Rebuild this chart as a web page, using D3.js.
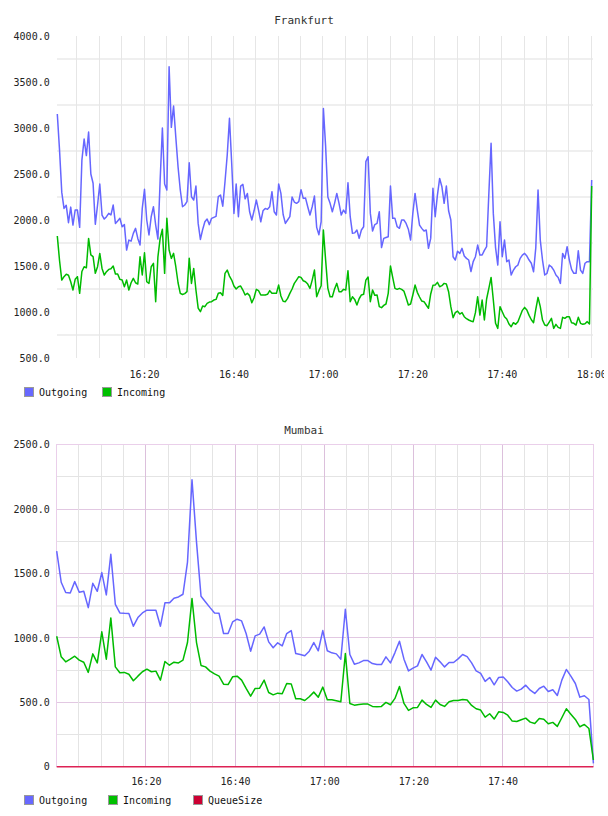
<!DOCTYPE html>
<html><head><meta charset="utf-8">
<script src="https://cdn.jsdelivr.net/npm/d3@7"></script>
<style>
body{margin:0;background:#fff}
svg{display:block}
text{font-family:"DejaVu Sans Mono",monospace;}
</style>
</head><body>
<svg id="c" width="608" height="816"></svg>
<script>
// ---------------- DATA ----------------
const frankTitle = "Frankfurt";
const frankStart = "16:00:36";
const frankStepSec = 30;
const frankOutgoing = [3152,2760,2300,2126,2160,1971,2140,1945,2110,2108,
1920,2650,2880,2700,2956,2500,2400,1953,2163,2391,
2054,2010,2036,2072,2055,2163,1963,1990,2018,1927,
1950,1673,1782,1770,1855,1909,1800,1728,2126,2333,
2000,1837,2036,2144,1945,1793,2434,3000,2391,2326,
3666,3007,3239,2900,2579,2326,2144,2163,2199,2623,
2253,2217,2369,1963,1789,1895,1981,2011,1950,2018,
2029,2040,2253,2271,2150,2416,2706,3105,2615,2072,
2391,2036,2369,2387,2230,2289,2090,2000,2100,2217,
2108,1981,2100,2126,2116,2144,2308,2090,2054,2391,
2289,2060,1963,2000,2036,2250,2195,2181,2199,2330,
2235,2240,2144,2054,2144,2260,1920,1840,1981,3213,
2800,2250,2181,2090,2181,2289,2181,2054,2108,2072,
2405,2036,1855,1860,1891,1800,1891,1927,2634,2688,
2072,1880,1950,1963,2090,1700,1800,1810,1818,2369,
2018,2018,1927,1910,2000,2000,1963,1900,1782,2072,
2289,2108,1945,1909,1880,1891,1692,1800,2344,2036,
2271,2452,2362,2181,2369,2100,2000,1601,1565,1660,
1637,1692,1608,1583,1565,1440,1547,1601,1728,1619,
1619,1670,1710,2289,2833,2072,1700,1510,1981,1601,
1782,1547,1565,1402,1456,1492,1510,1583,1619,1637,
1608,1565,1530,1438,1700,2326,1782,1565,1402,1420,
1510,1492,1456,1402,1375,1311,1637,1583,1710,1565,
1463,1420,1420,1666,1456,1420,1530,1547,1547,2434];
const frankIncoming = [1826,1560,1347,1384,1410,1400,1329,1239,1355,1384,
1203,1440,1492,1480,1800,1620,1601,1420,1492,1637,
1474,1402,1438,1463,1470,1500,1413,1413,1355,1347,
1275,1347,1239,1318,1366,1318,1304,1601,1402,1644,
1329,1311,1492,1529,1112,1600,1800,1900,1420,2018,
1674,1583,1637,1492,1318,1203,1190,1200,1221,1583,
1311,1474,1239,1043,1003,1065,1058,1094,1108,1112,
1130,1137,1203,1210,1180,1420,1456,1390,1347,1282,
1250,1275,1282,1239,1185,1203,1178,1101,1155,1246,
1232,1185,1185,1185,1192,1232,1203,1203,1203,1293,
1174,1116,1112,1148,1203,1250,1311,1347,1384,1376,
1340,1329,1304,1257,1347,1456,1166,1232,1286,1891,
1565,1257,1166,1166,1250,1311,1221,1221,1246,1239,
1449,1112,1166,1137,1076,1144,1185,1192,1347,1380,
1112,1239,1181,1185,1058,1047,1072,1087,1203,1500,
1376,1257,1246,1257,1246,1228,1155,1076,1087,1185,
1293,1214,1163,1119,1112,1076,1040,1196,1290,1293,
1322,1275,1286,1311,1304,1221,1058,938,993,1010,
978,993,949,927,913,902,895,993,1166,967,
1130,913,1141,1257,1376,1130,877,822,1058,1003,
949,924,869,840,884,866,895,956,1018,1050,
1021,963,916,884,1029,1159,1058,913,858,851,
891,931,822,866,833,822,942,931,949,949,
884,877,858,942,877,866,873,895,870,2369];
const frankYTicks = ["500.0","1000.0","1500.0","2000.0","2500.0","3000.0","3500.0","4000.0"];
const frankXTicks = ["16:20","16:40","17:00","17:20","17:40","18:00"];
const frankSeries = ["Outgoing","Incoming"];

const mumbaiTitle = "Mumbai";
const mumbaiStart = "16:00:00";
const mumbaiStepSec = 60.7;
const mumbaiOutgoing = [1674,1432,1352,1349,1437,1354,1362,1235,1424,1362,
1507,1334,1649,1261,1194,1191,1189,1091,1158,1194,
1215,1215,1215,1091,1272,1272,1308,1318,1339,1589,
2228,1744,1323,1279,1235,1194,1191,1034,1034,1124,
1145,1132,1034,897,1016,1029,1085,969,923,962,
938,1034,1057,879,871,861,897,964,900,1057,
900,884,876,835,1222,871,796,806,824,824,
801,793,793,853,806,886,974,835,744,765,
783,871,814,750,850,814,775,809,809,837,
871,855,806,744,724,662,693,636,693,696,
659,615,587,602,633,594,569,607,625,584,
597,553,672,755,703,646,540,551,522,26];
const mumbaiIncoming = [1013,853,814,835,858,827,811,732,876,806,
1047,835,1155,775,729,732,718,667,703,737,
757,737,742,672,817,788,811,806,827,964,
1305,964,786,775,742,721,703,641,638,698,
703,672,608,548,608,610,672,576,558,571,
566,646,643,527,527,514,543,579,540,618,
519,519,512,504,879,491,478,483,486,486,
468,465,468,499,481,530,623,491,437,457,
460,517,483,460,517,483,468,504,514,514,
522,517,476,450,440,385,411,370,426,421,
400,354,351,364,377,346,336,374,369,333,
344,313,380,450,408,367,310,328,297,52];
const mumbaiQueueSize = [0,0,0,0,0,0,0,0,0,0,0,0,0,0,0,0,0,0,0,0,
0,0,0,0,0,0,0,0,0,0,0,0,0,0,0,0,0,0,0,0,
0,0,0,0,0,0,0,0,0,0,0,0,0,0,0,0,0,0,0,0,
0,0,0,0,0,0,0,0,0,0,0,0,0,0,0,0,0,0,0,0,
0,0,0,0,0,0,0,0,0,0,0,0,0,0,0,0,0,0,0,0,
0,0,0,0,0,0,0,0,0,0,0,0,0,0,0,0,0,0,0,0];
const mumbaiYTicks = ["0","500.0","1000.0","1500.0","2000.0","2500.0"];
const mumbaiXTicks = ["16:20","16:40","17:00","17:20","17:40"];
const mumbaiSeries = ["Outgoing","Incoming","QueueSize"];

// ---------------- STYLE ----------------
const colors = {Outgoing:"#6868ff", Incoming:"#00c000", QueueSize:"#cc0033"};
const lineColors = {Outgoing:"#6666ff", Incoming:"#00bb00", QueueSize:"#dd2255"};
const svg = d3.select("#c");
svg.append("defs").append("clipPath").attr("id","pageclip")
  .append("rect").attr("x",0).attr("y",0).attr("width",604).attr("height",816);
const parseHMS = d3.timeParse("%H:%M:%S");
const parseHM = d3.timeParse("%H:%M");
const fmt = d3.timeFormat("%H:%M");

function times(start, step, n){
  const t0 = parseHMS(start).getTime();
  return d3.range(n).map(i => new Date(t0 + i*step*1000));
}

function drawChart(o){
  const g = svg.append("g").attr("clip-path","url(#pageclip)");
  const ts = times(o.start, o.step, o.series[0].values.length);
  const x = d3.scaleTime().domain([ts[0], ts[ts.length-1]]).range(o.xRange);
  const y = d3.scaleLinear().domain(o.yDomain).range([o.bottom, o.top]);
  const L = o.left, R = o.right, T = o.top, B = o.bottom;

  // grid
  const grid = g.append("g").attr("shape-rendering","crispEdges");
  o.hGrid.forEach(h => {
    grid.selectAll(null).data(h.values).enter().append("line")
      .attr("x1",L).attr("x2",R).attr("y1",d=>y(d)).attr("y2",d=>y(d))
      .attr("stroke",h.color).attr("stroke-width",h.width);
  });
  const fiveMin = x.ticks(d3.timeMinute.every(5)).filter(d => x(d) <= o.vMax);
  o.vGrid.forEach(v => {
    grid.selectAll(null).data(fiveMin.filter(d => v.filter(d.getMinutes()))).enter().append("line")
      .attr("x1",d=>x(d)).attr("x2",d=>x(d)).attr("y1",T).attr("y2",B)
      .attr("stroke",v.color).attr("stroke-width",v.width);
  });
  if (o.border) {
    grid.append("rect").attr("x",L).attr("y",T).attr("width",R-L).attr("height",B-T)
      .attr("fill","none").attr("stroke",o.border).attr("stroke-width",1);
  }

  // axes labels
  const yAx = d3.axisLeft(y).tickValues(o.yTicks.map(Number)).tickSize(0).tickPadding(7)
    .tickFormat((d,i) => o.yTicks[i]);
  const ya = g.append("g").attr("transform",`translate(${L},0)`).call(yAx);
  ya.select(".domain").remove();
  ya.selectAll("text").attr("font-family","DejaVu Sans Mono").attr("font-size",10).attr("fill","#222");

  const xAx = d3.axisBottom(x).tickValues(o.xTicks.map(s => {
      const p = parseHM(s); const d = new Date(ts[0]); d.setHours(p.getHours(), p.getMinutes(), 0, 0); return d;}))
    .tickSize(0).tickPadding(o.xPad).tickFormat(fmt);
  const xa = g.append("g").attr("transform",`translate(0,${B})`).call(xAx);
  xa.select(".domain").remove();
  xa.selectAll("text").attr("font-family","DejaVu Sans Mono").attr("font-size",10).attr("fill","#222");

  // lines
  o.series.forEach(s => {
    const line = d3.line().x((d,i)=>x(ts[i])).y(d=>y(d));
    g.append("path").datum(s.values).attr("d",line)
      .attr("fill","none").attr("stroke",lineColors[s.name]).attr("stroke-width",1.5)
      .attr("stroke-linejoin","round");
  });

  // title
  g.append("text").attr("x",304).attr("y",o.titleY).attr("text-anchor","middle")
    .attr("font-size",11).attr("fill","#333").text(o.title);

  // legend
  o.series.forEach((s,i) => {
    const lx = o.legendX[i];
    g.append("rect").attr("x",lx+0.5).attr("y",o.legendY+0.5).attr("width",9).attr("height",9)
      .attr("fill",colors[s.name]).attr("stroke","#999").attr("stroke-width",1);
    g.append("text").attr("x",lx+15).attr("y",o.legendY+8.5).attr("font-size",10).attr("fill","#111")
      .text(s.name);
  });
}

drawChart({
  title: frankTitle, titleY: 24,
  start: frankStart, step: frankStepSec,
  series: [{name:frankSeries[0], values:frankOutgoing},{name:frankSeries[1], values:frankIncoming}],
  yDomain:[500,4000], yTicks: frankYTicks, xTicks: frankXTicks,
  left:56.7, right:593, top:36, bottom:358, xRange:[57.3,591.7], vMax: 593,
  hGrid:[{values:[750,1250,1750,2250,2750,3250,3750], color:"#efefef", width:2}],
  vGrid:[{filter:m=>true, color:"#e6e6e6", width:1}],
  border:null, xPad:12.5,
  legendX:[24,102], legendY:387
});

drawChart({
  title: mumbaiTitle, titleY: 434,
  start: mumbaiStart, step: mumbaiStepSec,
  series: [{name:mumbaiSeries[0], values:mumbaiOutgoing},{name:mumbaiSeries[1], values:mumbaiIncoming},{name:mumbaiSeries[2], values:mumbaiQueueSize}],
  yDomain:[0,2500], yTicks: mumbaiYTicks, xTicks: mumbaiXTicks,
  left:56.7, right:593.3, top:444.7, bottom:766.7, xRange:[56.7,593.4], vMax: 590,
  hGrid:[{values:[250,750,1750,2250], color:"#e4e4e4", width:1},
         {values:[1250], color:"#f0f0f0", width:2},
         {values:[500,1000,1500,2000], color:"#e2c8e2", width:1}],
  vGrid:[{filter:m=>m%20!==0, color:"#e4e4e4", width:1},{filter:m=>m%20===0, color:"#dcc0dc", width:1}],
  border:"#eacfea", xPad:11.5,
  legendX:[24,108,193], legendY:795
});
</script>
</body></html>
